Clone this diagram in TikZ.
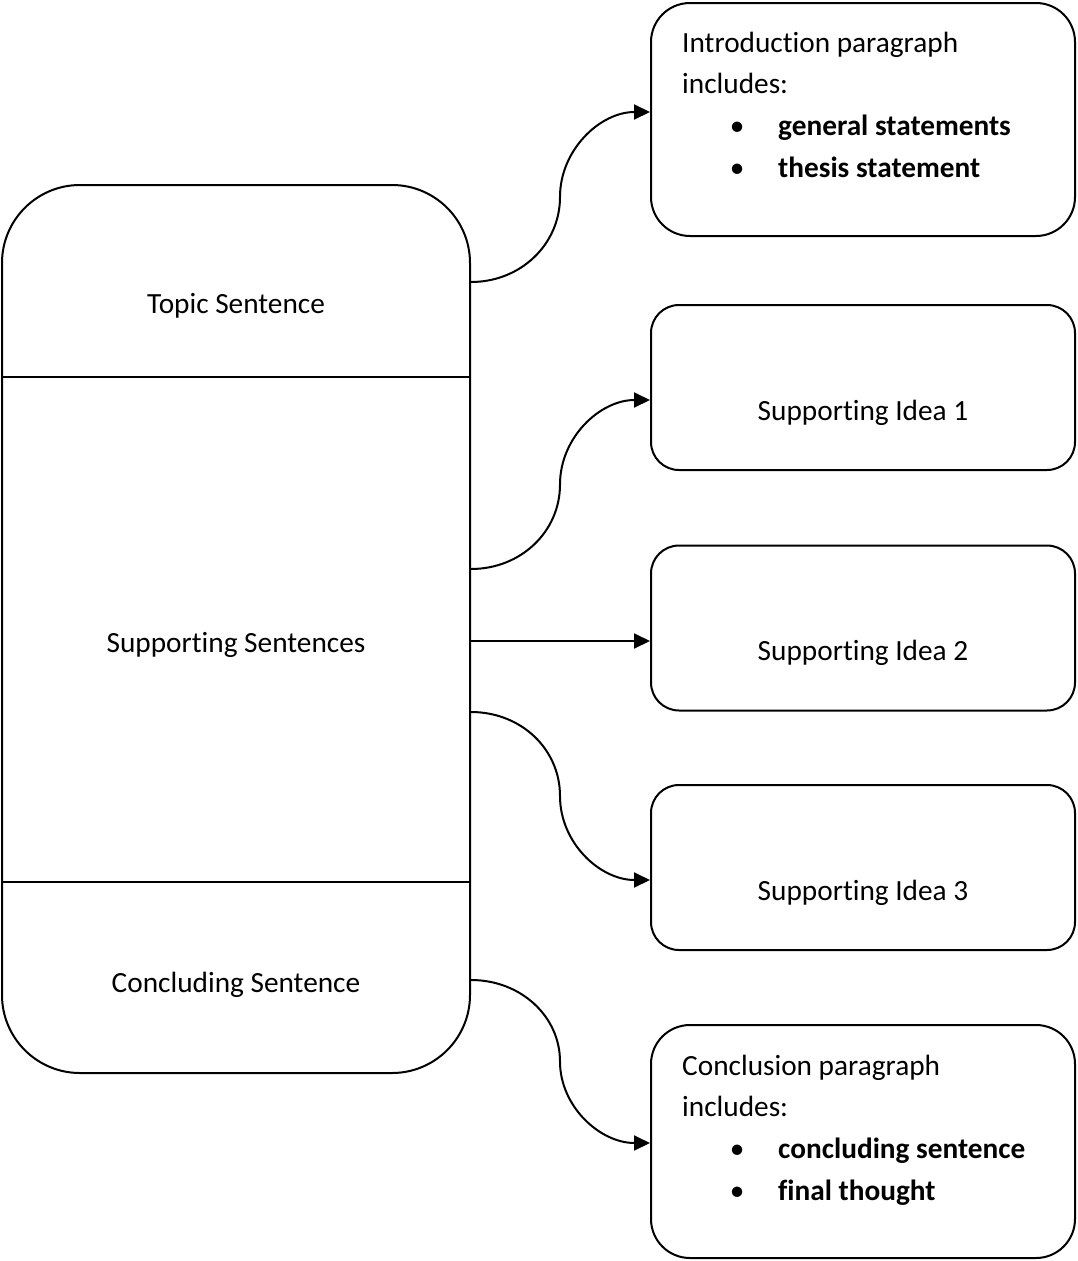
\documentclass[tikz,border=0pt]{standalone}
\usepackage{fontspec}
\setmainfont{Carlito}[Ligatures=NoCommon]
\setsansfont{Carlito}[Ligatures=NoCommon]
\usetikzlibrary{arrows.meta}

\tikzset{
    parabox/.style={draw, line width=2pt, rounded corners=78pt, inner sep=0pt},
    infobox/.style={draw, line width=2pt, minimum width=424pt, inner sep=0pt},
    ideabox/.style={infobox, rounded corners=28pt, minimum height=165pt},
    listbox/.style={infobox, rounded corners=39pt, minimum height=233pt},
    linetext/.style={anchor=base west, inner sep=0pt},
    midtext/.style={anchor=base, inner sep=0pt},
    connector/.style={line width=2pt, -{Triangle[length=16pt,width=15pt]}},
}

\begin{document}
\begin{tikzpicture}[font=\sffamily\fontsize{29.3}{35}\selectfont, x=1pt, y=-1pt]
    \useasboundingbox (0,0) rectangle (1077,1261);

    % Paragraph box (left)
    \node[parabox, minimum width=468pt, minimum height=888pt] (para) at (236,629) {};
    \draw[line width=2pt] (para.west |- 0,377) -- (para.east |- 0,377);
    \draw[line width=2pt] (para.west |- 0,882) -- (para.east |- 0,882);
    \node[midtext] (topic) at (236,313) {Topic Sentence};
    \node[midtext] (support) at (236,652) {Supporting Sentences};
    \node[midtext] (conclude) at (236,992) {Concluding Sentence};

    % Introduction paragraph
    \node[listbox] (intro) at (863,119.5) {};
    \node[linetext] (introA) at (682,52) {Introduction paragraph};
    \node[linetext] (introB) at (682,93) {includes:};
    \node[linetext] (introC) at (737,135) {\makebox[0pt]{\textbullet}\hspace{41pt}\textbf{general statements}};
    \node[linetext] (introD) at (737,177) {\makebox[0pt]{\textbullet}\hspace{41pt}\textbf{thesis statement}};

    % Supporting ideas
    \node[ideabox] (ideaA) at (863,387.5) {};
    \node[midtext] at (863,420) {Supporting Idea 1};
    \node[ideabox] (ideaB) at (863,628) {};
    \node[midtext] at (863,660) {Supporting Idea 2};
    \node[ideabox] (ideaC) at (863,867.5) {};
    \node[midtext] at (863,900) {Supporting Idea 3};

    % Conclusion paragraph
    \node[listbox] (concl) at (863,1141.5) {};
    \node[linetext] (conclA) at (682,1075) {Conclusion paragraph};
    \node[linetext] (conclB) at (682,1116) {includes:};
    \node[linetext] (conclC) at (737,1158) {\makebox[0pt]{\textbullet}\hspace{41pt}\textbf{concluding sentence}};
    \node[linetext] (conclD) at (737,1200) {\makebox[0pt]{\textbullet}\hspace{41pt}\textbf{final thought}};

    % Connectors
    \draw[connector] (para.east |- 0,282) .. controls +(50,0) and +(0,47) .. (560,197)
        .. controls +(0,-47) and +(-50,0) .. (intro.west |- 0,112);
    \draw[connector] (para.east |- 0,569) .. controls +(50,0) and +(0,47) .. (560,484.5)
        .. controls +(0,-47) and +(-50,0) .. (ideaA.west |- 0,400);
    \draw[connector] (para.east |- 0,641) -- (ideaB.west |- 0,641);
    \draw[connector] (para.east |- 0,712) .. controls +(50,0) and +(0,-47) .. (560,796)
        .. controls +(0,47) and +(-50,0) .. (ideaC.west |- 0,880);
    \draw[connector] (para.east |- 0,980) .. controls +(50,0) and +(0,-45) .. (560,1061.5)
        .. controls +(0,45) and +(-50,0) .. (concl.west |- 0,1143);

\end{tikzpicture}
\end{document}
